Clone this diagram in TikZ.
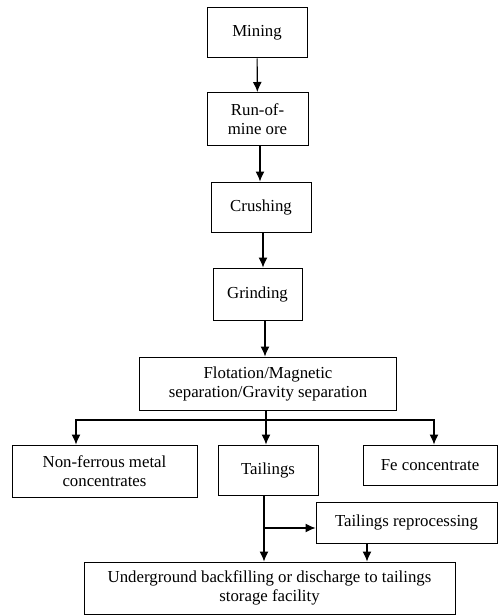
\documentclass[tikz,border=0pt]{standalone}
\usepackage{fontspec}
\setmainfont{Liberation Serif}
\usetikzlibrary{arrows.meta}

\tikzset{box/.style={draw,line width=1pt,inner sep=0pt,align=center,
  font=\fontsize{16.8}{19}\selectfont},
  flow/.style={line width=1.1pt,-{Latex[length=10pt,width=9pt]}}}

\begin{document}
\begin{tikzpicture}[x=1pt,y=-1pt]
\useasboundingbox (0,0) rectangle (498,615);

\node [box,minimum width=100pt,minimum height=50pt] (mining) at (257,33) {Mining};
\node [box,minimum width=101pt,minimum height=53pt] (rom) at (257.5,119) {Run-of-\\mine ore};
\node [box,minimum width=100pt,minimum height=50pt] (crush) at (261,207) {Crushing};
\node [box,minimum width=89pt,minimum height=52pt] (grind) at (257.5,294) {Grinding};
\node [box,minimum width=257pt,minimum height=53pt] (flot) at (268,383.5)
  {Flotation/Magnetic\\separation/Gravity separation};

\node [box,minimum width=185pt,minimum height=52pt] (nonfe) at (104.5,471)
  {Non-ferrous metal\\concentrates};
\node [box,minimum width=100pt,minimum height=50pt] (tail) at (268,470) {Tailings};
\node [box,minimum width=134pt,minimum height=40pt] (fe) at (430,465) {Fe concentrate};
\node [box,minimum width=181pt,minimum height=41pt] (reproc) at (406.5,522.5) {Tailings reprocessing};
\node [box,minimum width=371pt,minimum height=52pt] (store) at (269.5,588)
  {Underground backfilling or discharge to tailings\\storage facility};

\draw [flow] (mining) -- (rom);
\draw [flow] (260,0 |- rom.south) -- (260,0 |- crush.north);
\draw [flow] (263,0 |- crush.south) -- (263,0 |- grind.north);
\draw [flow] (265,0 |- grind.south) -- (265,0 |- flot.north);

\coordinate (split) at (266,420);
\draw [line width=1.1pt] (266,0 |- flot.south) -- (split);
\draw [flow] (split) -| (76,0 |- nonfe.north);
\draw [flow] (split) -- (266,0 |- tail.north);
\draw [flow] (split) -| (434,0 |- fe.north);

\coordinate (branch) at (264,528);
\draw [flow] (264,0 |- tail.south) -- (264,0 |- store.north);
\draw [flow] (branch) -- (branch -| reproc.west);
\draw [flow] (367,0 |- reproc.south) -- (367,0 |- store.north);
\end{tikzpicture}
\end{document}
